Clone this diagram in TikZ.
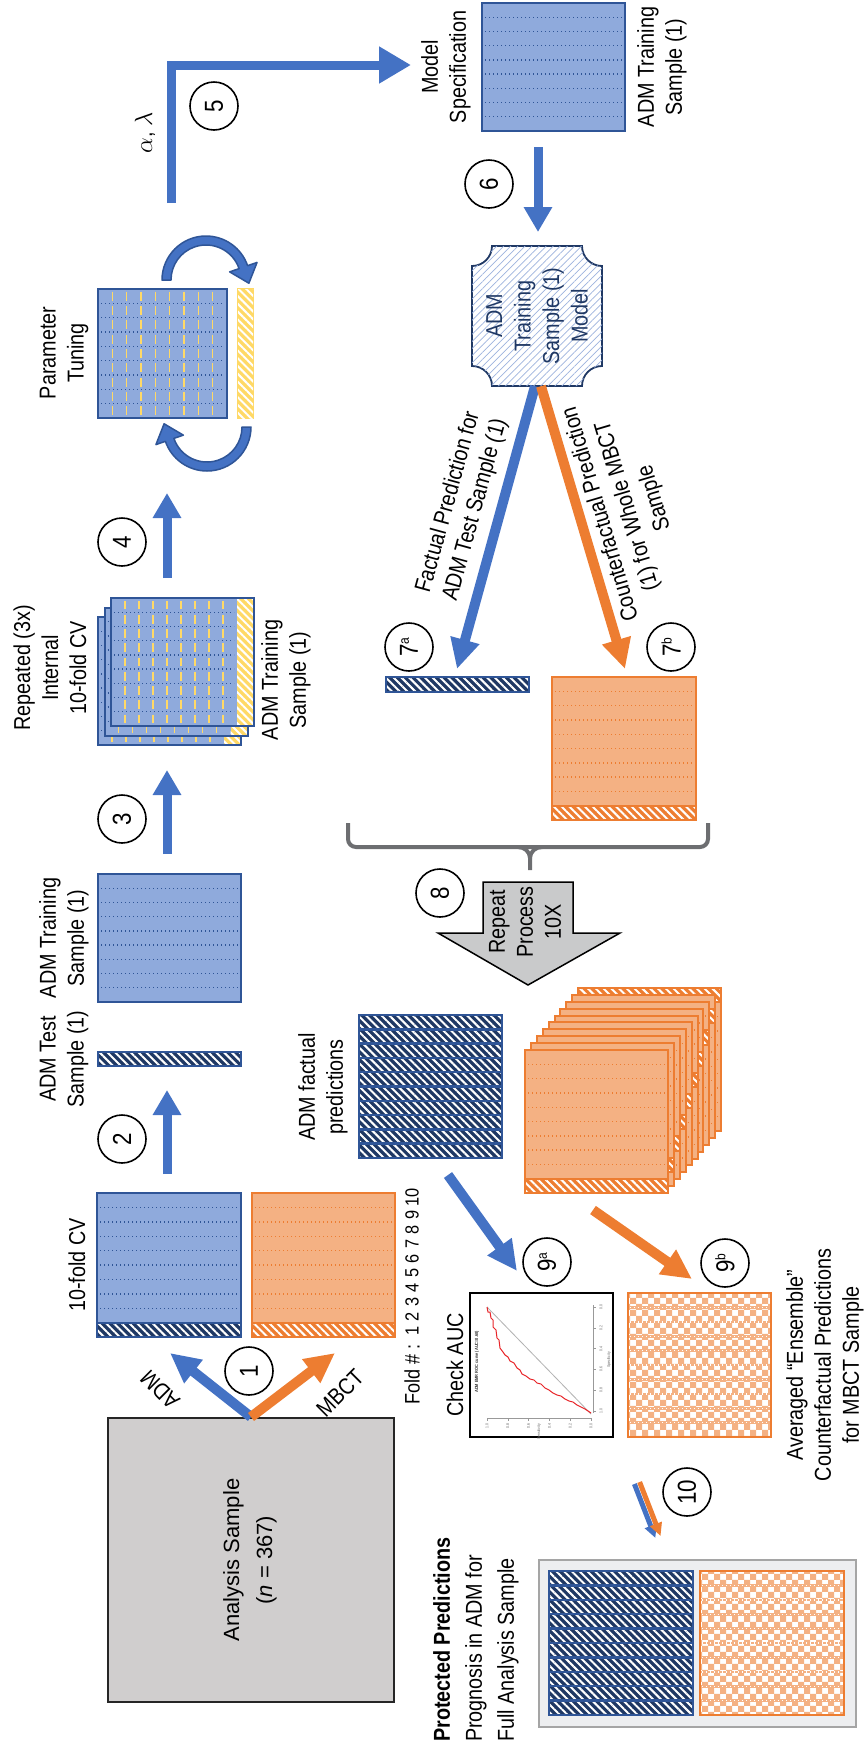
\documentclass[tikz,border=0pt]{standalone}
\usepackage{fontspec}
\setmainfont{Liberation Sans}[FakeStretch=0.86]
\newfontfamily\regfont{Liberation Sans}
\usetikzlibrary{arrows.meta,calc,patterns,patterns.meta}
\definecolor{bfillc}{HTML}{8FAADC}
\definecolor{blinec}{HTML}{2F5597}
\definecolor{navyc}{HTML}{1F3864}
\definecolor{ofillc}{HTML}{F4B183}
\definecolor{olinec}{HTML}{ED7D31}
\definecolor{arrowb}{HTML}{4472C4}
\definecolor{yellowc}{HTML}{FFD966}
\definecolor{grayfill}{HTML}{D0CECE}
\definecolor{arrowg}{HTML}{C9CACB}
\definecolor{bracec}{HTML}{6D6E71}
\definecolor{protfill}{HTML}{EDEEF0}
\definecolor{protline}{HTML}{A5A5A5}
\definecolor{modelpat}{HTML}{9DB3DE}
\definecolor{rocred}{HTML}{E8262A}

\pgfdeclarepatternformonly{chkpat}{\pgfpoint{-0.1pt}{-0.1pt}}{\pgfpoint{12.1pt}{12.1pt}}{\pgfpoint{12pt}{12pt}}{%
  \pgfpathrectangle{\pgfpointorigin}{\pgfpoint{6pt}{6pt}}%
  \pgfpathrectangle{\pgfpoint{6pt}{6pt}}{\pgfpoint{6pt}{6pt}}%
  \pgfusepath{fill}}

\tikzset{
  bfill/.style={fill=bfillc},
  ofill/.style={fill=ofillc},
  bline/.style={draw=blinec, line width=2pt},
  oline/.style={draw=olinec, line width=2pt},
  bdots/.style={draw=blinec, line width=1.4pt, dash pattern=on 1.4pt off 2.6pt},
  odots/.style={draw=olinec, line width=1.4pt, dash pattern=on 1.4pt off 2.6pt},
  bhatch/.style={fill=navyc, postaction={pattern={Lines[angle=-45,distance=5.5pt,line width=2pt]}, pattern color=white}},
  ohatch/.style={fill=olinec, postaction={pattern={Lines[angle=-45,distance=5.5pt,line width=2pt]}, pattern color=white}},
  yhatch/.style={fill=yellowc, postaction={pattern={Lines[angle=-45,distance=5.5pt,line width=2pt]}, pattern color=white}},
  txt/.style={align=center, inner sep=0pt, font=\fontsize{23}{28}\selectfont},
  lbl/.style={txt, rotate=90},
  stepc/.style={circle, draw=black, line width=1.6pt, minimum size=48pt, inner sep=0pt, rotate=90, font=\fontsize{26}{26}\selectfont},
  barrow/.style={draw=arrowb, line width=9pt, -{Triangle[length=25pt,width=27pt]}},
  barrowL/.style={draw=arrowb, line width=10pt, -{Triangle[length=30pt,width=28pt]}},
  oarrowL/.style={draw=olinec, line width=10pt, -{Triangle[length=30pt,width=28pt]}},
  tiny/.style={rotate=90, inner sep=0pt, font=\fontsize{4}{4}\selectfont, text=black!60},
}

% name, x0, y0, x1, y1, nbands, scheme (b/o), hatch band index (-1 none)
\newcommand{\bandbox}[8]{%
  \pgfmathsetmacro{\bbh}{(#5-#3)/#6}%
  \pgfmathsetmacro{\bbw}{#4-#2}%
  \pgfmathsetmacro{\bbt}{#5-#3}%
  \path[#7fill] (#2,#3) rectangle (#4,#5);
  \ifnum#6>1
    \pgfmathtruncatemacro{\bbn}{#6-1}%
    \foreach \kk in {1,...,\bbn}{\draw[#7dots] ({#2+3},{#3+\kk*\bbh}) -- ({#4-3},{#3+\kk*\bbh});}%
  \fi
  \ifnum#8>-1
    \path[#7hatch] (#2,{#3+#8*\bbh}) rectangle (#4,{#3+(#8+1)*\bbh});
    \draw[#7line] (#2,{#3+#8*\bbh}) rectangle (#4,{#3+(#8+1)*\bbh});
  \fi
  \draw[#7line] (#2,#3) rectangle (#4,#5);
  \node[inner sep=0pt, outer sep=0pt, minimum width=\bbw pt, minimum height=\bbt pt, anchor=north west] (#1) at (#2,#3) {};
}

% name, x0, y0, x1, y1, hatch column width
\newcommand{\tickbox}[6]{%
  \pgfmathsetmacro{\tbs}{(#5-#3)/9}%
  \pgfmathsetmacro{\tbc}{(#4-#2-#6)/9}%
  \pgfmathsetmacro{\tbw}{#4-#2}%
  \pgfmathsetmacro{\tbt}{#5-#3}%
  \path[bfill] (#2,#3) rectangle (#4,#5);
  \foreach \kk in {1,...,8}{\draw[bdots] ({#2+3},{#3+\kk*\tbs}) -- ({#4-#6-3},{#3+\kk*\tbs});}
  \foreach \ci in {1,...,8}{\foreach \bi in {0,...,8}{%
    \draw[yellowc, line width=1.6pt] ({#2+\ci*\tbc},{#3+\bi*\tbs+2.8}) -- ({#2+\ci*\tbc},{#3+(\bi+1)*\tbs-2.8});}}
  \ifdim#6pt>0pt
    \path[yhatch] ({#4-#6},#3) rectangle (#4,#5);
  \fi
  \draw[bline] (#2,#3) rectangle (#4,#5);
  \node[inner sep=0pt, outer sep=0pt, minimum width=\tbw pt, minimum height=\tbt pt, anchor=north west] (#1) at (#2,#3) {};
}

% name, x0, y0, x1, y1 : dark hatched rows
\newcommand{\rowhatch}[5]{%
  \pgfmathsetmacro{\rhs}{(#5-#3)/10}%
  \pgfmathsetmacro{\rhw}{#4-#2}%
  \pgfmathsetmacro{\rht}{#5-#3}%
  \path[bhatch] (#2,#3) rectangle (#4,#5);
  \foreach \kk in {1,...,9}{\draw[blinec, line width=2.5pt] (#2,{#3+\kk*\rhs}) -- (#4,{#3+\kk*\rhs});}
  \draw[bline] (#2,#3) rectangle (#4,#5);
  \node[inner sep=0pt, outer sep=0pt, minimum width=\rhw pt, minimum height=\rht pt, anchor=north west] (#1) at (#2,#3) {};
}

% name, x0, y0, x1, y1 : orange checker
\newcommand{\chkbox}[5]{%
  \pgfmathsetmacro{\cbs}{(#5-#3)/10}%
  \pgfmathsetmacro{\cbw}{#4-#2}%
  \pgfmathsetmacro{\cbt}{#5-#3}%
  \path[fill=white, postaction={pattern=chkpat, pattern color=ofillc}] (#2,#3) rectangle (#4,#5);
  \foreach \kk in {1,...,9}{%
    \draw[ofillc, line width=2.6pt] (#2,{#3+\kk*\cbs}) -- (#4,{#3+\kk*\cbs});
    \draw[white, line width=1.4pt, dash pattern=on 1.4pt off 2.6pt] ({#2+2},{#3+\kk*\cbs}) -- ({#4-2},{#3+\kk*\cbs});}
  \draw[oline] (#2,#3) rectangle (#4,#5);
  \node[inner sep=0pt, outer sep=0pt, minimum width=\cbw pt, minimum height=\cbt pt, anchor=north west] (#1) at (#2,#3) {};
}

% cx, cy, start angle, end angle (increasing)
\newcommand{\circarrow}[4]{%
  \path[fill=arrowb, draw=blinec, line width=1.5pt, line join=round]
    ($(#1,#2)+(#3:44)$) arc[start angle=#3, end angle=#4, radius=44]
    -- ($(#1,#2)+(#4:54)$) -- ($(#1,#2)+(#4:39.5)+({#4+90}:17)$) -- ($(#1,#2)+(#4:25)$) -- ($(#1,#2)+(#4:35)$)
    arc[start angle=#4, end angle=#3, radius=35] -- cycle;
}

\begin{document}
\begin{tikzpicture}[x=1pt,y=-1pt]
\useasboundingbox (0,0) rectangle (865,1754);

%================ TOP: model specification
\bandbox{specbox}{482}{3}{625}{131}{9}{b}{-1}
\node[lbl] (specL) at (446,67) {Model\\Specification};
\node[lbl] (specR) at (662,67) {ADM Training\\Sample (1)};

% arrow 5
\coordinate (a5s) at (171,203);
\coordinate (a5e) at (411,65);
\draw[draw=arrowb, line width=9pt, line join=miter, -{Triangle[length=32pt,width=35pt]}] (a5s) |- (a5e);
\node[stepc] (c5) at (214,106) {5};
\node[lbl] (alam) at (145,133) {$\alpha$, $\lambda$};

% arrow 6
\coordinate (a6s) at (538,147);
\coordinate (a6e) at (538,232);
\draw[barrow] (a6s) -- (a6e);
\node[stepc] (c6) at (489,184) {6};

%================ model node
\path[fill=white, postaction={pattern={Lines[angle=45,distance=5pt,line width=0.7pt]}, pattern color=modelpat}, draw=navyc, line width=1.8pt]
  (492,246) -- (582,246) arc[start angle=180,end angle=90,radius=20]
  -- (602,366) arc[start angle=270,end angle=180,radius=20]
  -- (492,386) arc[start angle=0,end angle=-90,radius=20]
  -- (472,266) arc[start angle=90,end angle=0,radius=20] -- cycle;
\node[minimum width=130pt, minimum height=140pt, inner sep=0pt] (model) at (537,316) {};
\node[lbl, text=navyc, font=\fontsize{23}{28.5}\selectfont] (modelT) at (537,316) {ADM\\Training\\Sample (1)\\Model};

%================ parameter tuning
\tickbox{parbox}{98}{289}{227}{418}{0}
\path[yhatch, draw=yellowc, line width=1.5pt] (238,289) rectangle (253,418);
\node[inner sep=0pt, minimum width=15pt, minimum height=129pt] (ystrip) at (245.5,353.5) {};
\node[lbl] (parL) at (64,353) {Parameter\\Tuning};
\circarrow{206}{280}{180}{341}
\circarrow{207}{427}{0}{161}

% arrow 4
\coordinate (a4s) at (167,578);
\coordinate (a4e) at (167,493);
\draw[barrow] (a4s) -- (a4e);
\node[stepc] (c4) at (122,542) {4};

%================ repeated CV stack
\tickbox{rep3}{98}{617}{241}{745}{17}
\tickbox{rep2}{104.5}{607.5}{247.5}{735.5}{17}
\tickbox{rep1}{111}{598}{254}{726}{17}
\node[lbl] (repL) at (50,668) {Repeated (3x)\\Internal\\10-fold CV};
\node[lbl] (repR) at (286,680) {ADM Training\\Sample (1)};

% arrow 3
\coordinate (a3s) at (167,854);
\coordinate (a3e) at (167,770);
\draw[barrow] (a3s) -- (a3e);
\node[stepc] (c3) at (122,819) {3};

%================ training / test
\bandbox{trainbox}{98}{874}{241}{1002}{9}{b}{-1}
\node[lbl] (trainL) at (64,938) {ADM Training\\Sample (1)};
\bandbox{testbox}{98}{1052}{241}{1066}{1}{b}{0}
\node[lbl] (testL) at (64,1059) {ADM Test\\Sample (1)};

% arrow 2
\coordinate (a2s) at (167,1174);
\coordinate (a2e) at (167,1090);
\draw[barrow] (a2s) -- (a2e);
\node[stepc] (c2) at (122,1139) {2};

%================ 10-fold CV
\bandbox{cvb}{97}{1193}{241}{1337}{10}{b}{9}
\bandbox{cvo}{252}{1193}{395}{1337}{10}{o}{9}
\node[lbl] (cvL) at (77,1265) {10-fold CV};
\node[lbl, anchor=east, font=\fontsize{21}{21}\selectfont] (foldL) at (412,1344) {Fold \# :};
\foreach \n in {1,...,9}{\node[lbl, font=\fontsize{19}{19}\selectfont] (fn\n) at (412,{1331-14.5*(\n-1)}) {\n};}
\node[lbl, font=\fontsize{19}{19}\selectfont] (fn10) at (412,1197) {10};

%================ analysis sample
\node[draw=black!85, line width=2pt, fill=grayfill, minimum width=286pt, minimum height=284pt, inner sep=0pt] (ana) at (251,1560) {};
\node[lbl, font=\regfont\fontsize{22}{33}\selectfont] (anaT) at (250,1560) {Analysis Sample\\(\textit{n} = 367)};

% arrows 1
\coordinate (a1b) at (170,1353);
\coordinate (a1o) at (335,1353);
\draw[barrowL] (ana.north) -- (a1b);
\draw[oarrowL] (ana.north) -- (a1o);
\node[stepc] (c1) at (249,1371) {1};
\node[txt, rotate=135] (admL) at (160,1390) {ADM};
\node[txt, rotate=45] (mbctL) at (340,1393) {MBCT};

%================ arrows 7
\coordinate (a7be) at (457,669);
\coordinate (a7oe) at (625,669);
\draw[barrowL] ([xshift=-2pt]model.south) -- (a7be);
\draw[oarrowL] ([xshift=4pt]model.south) -- (a7oe);
\node[txt, rotate=74.6] (factL) at (462,506) {Factual Prediction for\\ADM Test Sample (1)};
\node[txt, rotate=106.5] (cfL) at (628,506) {Counterfactual Prediction\\(1) for Whole MBCT\\Sample};

\bandbox{s7a}{386}{677}{529}{692}{1}{b}{0}
\node[stepc] (c7a) at (409,647) {7\raisebox{9pt}{\fontsize{14}{14}\selectfont a}};
\bandbox{s7b}{552}{677}{696}{820}{10}{o}{9}
\node[stepc] (c7b) at (671,647) {7\raisebox{9pt}{\fontsize{14}{14}\selectfont b}};

% brace
\draw[bracec, line width=4pt, rounded corners=8pt] (348,823) -- (348,847) -- (708,847) -- (708,823);
\draw[bracec, line width=4pt] (518,847) to[out=0,in=90] (530,858) -- (530,870);
\draw[bracec, line width=4pt] (542,847) to[out=180,in=90] (530,858);
\coordinate (braceTip) at (530,870);

%================ step 8 gray arrow
\path[fill=arrowg, draw=black, line width=1.5pt, line join=miter]
  (483,882) -- (573,882) -- (573,933) -- (620,933) -- (528,985) -- (438,933) -- (483,933) -- cycle;
\node[lbl] (repT) at (525,922) {Repeat\\Process\\10X};
\node[stepc] (c8) at (440,893) {8};

%================ ADM factual predictions
\rowhatch{afp}{359}{1015}{502}{1158}
\node[lbl] (afpL) at (323,1087) {ADM factual\\predictions};

% orange stack
\foreach \i in {9,...,0}{%
  \pgfmathsetmacro{\sx}{525+5.9*\i}%
  \pgfmathsetmacro{\sy}{1050-6.9*\i}%
  \pgfmathsetmacro{\ex}{\sx+143}%
  \pgfmathsetmacro{\ey}{\sy+143}%
  \pgfmathtruncatemacro{\hi}{9-\i}%
  \bandbox{os\i}{\sx}{\sy}{\ex}{\ey}{10}{o}{\hi}
}

% arrows 9
\coordinate (a9as) at (448,1175);
\coordinate (a9ae) at (517,1271);
\draw[barrowL] (a9as) -- (a9ae);
\coordinate (a9bs) at (593,1210);
\coordinate (a9be) at (692,1279);
\draw[oarrowL] (a9bs) -- (a9be);
\node[stepc] (c9a) at (547,1262) {9\raisebox{9pt}{\fontsize{14}{14}\selectfont a}};
\node[stepc] (c9b) at (725,1263) {9\raisebox{9pt}{\fontsize{14}{14}\selectfont b}};

%================ AUC plot
\node[draw=black, line width=1.5pt, fill=white, minimum width=143pt, minimum height=144pt, inner sep=0pt] (auc) at (541.5,1365) {};
\draw[black!40, line width=0.6pt] (593,1305) -- (593,1413);
\foreach \v/\t in {0/0.0,1/0.2,2/0.4,3/0.6,4/0.8,5/1.0}{
  \draw[black!40, line width=0.6pt] (593,{1307+\v*20.8}) -- (596,{1307+\v*20.8});
  \node[tiny] (sp\v) at (601,{1307+\v*20.8}) {\t};
  \draw[black!40, line width=0.6pt] ({591-\v*20.8},1418) -- ({591-\v*20.8},1421);
  \node[tiny] (se\v) at ({591-\v*20.8},1426) {\t};
}
\draw[black!40, line width=0.6pt] (487,1418) -- (591,1418);
\node[tiny] (specT) at (609,1360) {Specificity};
\node[tiny] (sensT) at (539,1432) {Sensitivity};
\node[tiny, text=black!80, font=\fontsize{4.5}{4.5}\selectfont\bfseries] (rocT) at (477,1362) {ADM EMR ROC curve (AUC=0.68)};
\draw[black!30, line width=0.8pt] (487,1307) -- (591,1414);
\draw[rocred, line width=1pt] plot coordinates {(487,1307) (488,1312) (490,1312) (491,1318) (493,1320) (493,1327) (496,1330) (497,1338) (499,1340) (500,1348) (503,1352) (505,1355) (508,1357) (510,1361) (514,1363) (517,1368) (520,1370) (522,1374) (526,1376) (530,1379) (534,1380) (537,1383) (541,1384) (545,1388) (549,1390) (553,1393) (557,1395) (561,1396) (565,1399) (569,1401) (573,1402) (577,1405) (581,1407) (585,1409) (588,1411) (591,1413)};
\node[lbl] (aucL) at (455,1365) {Check AUC};

%================ averaged ensemble
\chkbox{avgbox}{628}{1293}{771}{1437}
\node[lbl] (avgL) at (825,1365) {Averaged “Ensemble”\\Counterfactual Predictions\\for MBCT Sample};

%================ step 10
\coordinate (a10s) at (637,1483);
\coordinate (a10e) at (658,1537);
\draw[arrowb, line width=5pt, -{Triangle[length=13pt,width=12pt]}] ([shift={(-2.6,1)}]a10s) -- ([shift={(-2.6,1)}]a10e);
\draw[olinec, line width=5pt, -{Triangle[length=13pt,width=12pt]}] ([shift={(2.6,-1)}]a10s) -- ([shift={(2.6,-1)}]a10e);
\node[stepc] (c10) at (687,1492) {10};

%================ protected predictions
\node[draw=protline, line width=2pt, fill=protfill, minimum width=317pt, minimum height=167pt, inner sep=0pt] (prot) at (697.5,1643.5) {};
\rowhatch{protb}{549}{1571}{693}{1715}
\chkbox{proto}{700}{1571}{844}{1715}
\node[lbl, align=left, anchor=west, font=\fontsize{23}{32}\selectfont] (protL) at (476,1742) {\textbf{Protected Predictions}\\Prognosis in ADM for\\Full Analysis Sample};

\end{tikzpicture}
\end{document}
